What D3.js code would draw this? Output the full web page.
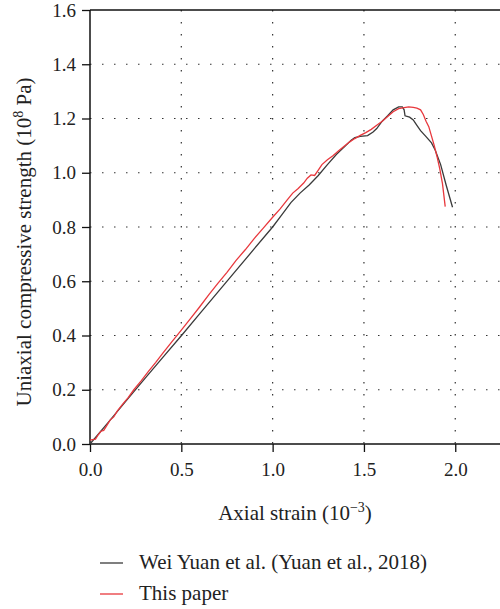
<!DOCTYPE html>
<html>
<head>
<meta charset="utf-8">
<script src="https://cdn.jsdelivr.net/npm/d3@7"></script>
<style>
  body { margin: 0; background: #fff; }
</style>
</head>
<body>
<div id="chart"></div>
<script>

// Wei Yuan et al. (Yuan et al., 2018)
let yuanStrain = [0, 0.1, 0.2, 0.3, 0.4, 0.5, 0.6, 0.7, 0.8, 0.9, 1.0, 1.05, 1.1, 1.15, 1.2, 1.25, 1.3, 1.35, 1.4, 1.43, 1.45, 1.48, 1.52, 1.55, 1.57, 1.6, 1.63, 1.66, 1.69, 1.71, 1.72, 1.725, 1.75, 1.77, 1.79, 1.81, 1.84, 1.87, 1.89, 1.92, 1.95, 1.985];
let yuanStress = [0, 0.08, 0.161, 0.241, 0.32, 0.399, 0.48, 0.56, 0.64, 0.72, 0.80, 0.845, 0.89, 0.925, 0.955, 0.99, 1.03, 1.068, 1.10, 1.12, 1.13, 1.134, 1.137, 1.15, 1.163, 1.19, 1.21, 1.232, 1.243, 1.243, 1.232, 1.21, 1.205, 1.195, 1.175, 1.155, 1.133, 1.11, 1.084, 1.03, 0.955, 0.873];

// This paper
let paperStrain = [0, 0.015, 0.03, 0.045, 0.06, 0.075, 0.09, 0.11, 0.13, 0.15, 0.18, 0.21, 0.24, 0.28, 0.32, 0.36, 0.4, 0.45, 0.5, 0.55, 0.6, 0.65, 0.7, 0.75, 0.8, 0.85, 0.9, 0.95, 1.0, 1.04, 1.08, 1.11, 1.14, 1.17, 1.19, 1.21, 1.23, 1.25, 1.27, 1.3, 1.33, 1.36, 1.39, 1.42, 1.45, 1.48, 1.51, 1.54, 1.57, 1.6, 1.63, 1.66, 1.69, 1.72, 1.745, 1.77, 1.79, 1.81, 1.825, 1.84, 1.855, 1.87, 1.885, 1.9, 1.915, 1.93, 1.945];
let paperStress = [0.014, 0.016, 0.018, 0.034, 0.047, 0.05, 0.066, 0.088, 0.1, 0.122, 0.148, 0.172, 0.2, 0.233, 0.268, 0.301, 0.336, 0.378, 0.42, 0.462, 0.505, 0.55, 0.592, 0.633, 0.677, 0.716, 0.758, 0.797, 0.836, 0.866, 0.9, 0.925, 0.942, 0.962, 0.98, 0.992, 0.99, 1.01, 1.03, 1.048, 1.063, 1.08, 1.097, 1.113, 1.126, 1.138, 1.148, 1.16, 1.175, 1.19, 1.207, 1.225, 1.236, 1.24, 1.243, 1.241, 1.238, 1.232, 1.215, 1.19, 1.17, 1.135, 1.1, 1.06, 1.015, 0.96, 0.875];

let xTicks = [0, 0.5, 1.0, 1.5, 2.0];
let yTicks = [0, 0.2, 0.4, 0.6, 0.8, 1.0, 1.2, 1.4, 1.6];

let seriesNames = ["Wei Yuan et al. (Yuan et al., 2018)", "This paper"];
let seriesColors = ["#3a3a3a", "#e8383d"];

let font = "'Liberation Serif', 'Times New Roman', serif";

let margin = {top: 10, right: 0, bottom: 165, left: 90};
let width = 500 - margin.left - margin.right;
let height = 609 - margin.top - margin.bottom;

let svg = d3.select("#chart").append("svg")
    .attr("width", 500)
    .attr("height", 609)
    .attr("font-family", font)
    .append("g")
    .attr("transform", "translate(" + margin.left + "," + margin.top + ")");

let x = d3.scaleLinear().domain([0, 2.245]).range([0, width]);
let y = d3.scaleLinear().domain([0, 1.6]).range([height, 0]);

// dotted grid
svg.append("g").selectAll("line.vgrid")
    .data(xTicks.slice(1))
    .enter().append("line")
    .attr("x1", d => x(d)).attr("x2", d => x(d))
    .attr("y1", 0).attr("y2", height)
    .attr("stroke", "#333").attr("stroke-width", 1.2)
    .attr("stroke-dasharray", "1.5,10.5");

svg.append("g").selectAll("line.hgrid")
    .data(yTicks.slice(1, -1))
    .enter().append("line")
    .attr("x1", 0).attr("x2", width)
    .attr("y1", d => y(d)).attr("y2", d => y(d))
    .attr("stroke", "#333").attr("stroke-width", 1.2)
    .attr("stroke-dasharray", "1.5,10.5");

// axes
let xAxis = d3.axisBottom(x).tickValues(xTicks).tickFormat(d3.format(".1f")).tickSize(8).tickPadding(11);
let yAxis = d3.axisLeft(y).tickValues(yTicks).tickFormat(d3.format(".1f")).tickSize(8).tickPadding(6);

let xg = svg.append("g").attr("transform", "translate(0," + height + ")").call(xAxis);
let yg = svg.append("g").call(yAxis);
[xg, yg].forEach(g => {
    g.attr("font-family", font).attr("font-size", 19);
    g.select(".domain").remove();
    g.selectAll("line").attr("stroke", "#111").attr("stroke-width", 1.3);
    g.selectAll("text").attr("fill", "#222");
});

// frame lines (left, bottom, top)
svg.append("line").attr("x1", 0).attr("x2", 0).attr("y1", 0).attr("y2", height).attr("stroke", "#111").attr("stroke-width", 1.5);
svg.append("line").attr("x1", 0).attr("x2", width).attr("y1", height).attr("y2", height).attr("stroke", "#111").attr("stroke-width", 1.5);
svg.append("line").attr("x1", 0).attr("x2", width).attr("y1", 0).attr("y2", 0).attr("stroke", "#111").attr("stroke-width", 1.5);

// curves
let line = d3.line().x(d => x(d[0])).y(d => y(d[1]));
let yuanData = d3.zip(yuanStrain, yuanStress);
let paperData = d3.zip(paperStrain, paperStress);

svg.append("path").datum(yuanData)
    .attr("d", line).attr("fill", "none")
    .attr("stroke", seriesColors[0]).attr("stroke-width", 1.3);
svg.append("path").datum(paperData)
    .attr("d", line).attr("fill", "none")
    .attr("stroke", seriesColors[1]).attr("stroke-width", 1.3);

// axis titles
let xt = svg.append("text")
    .attr("x", 205).attr("y", height + 76)
    .attr("text-anchor", "middle")
    .attr("font-size", 21).attr("fill", "#222");
xt.append("tspan").text("Axial strain (10");
xt.append("tspan").attr("dy", -8).attr("font-size", 14).text("\u22123");
xt.append("tspan").attr("dy", 8).text(")");

let yt = svg.append("text")
    .attr("transform", "translate(-59," + 232 + ") rotate(-90)")
    .attr("text-anchor", "middle")
    .attr("font-size", 21).attr("fill", "#222");
yt.append("tspan").text("Uniaxial compressive strength (10");
yt.append("tspan").attr("dy", -8).attr("font-size", 14).text("8");
yt.append("tspan").attr("dy", 8).text(" Pa)");

// legend
let legend = svg.append("g").attr("transform", "translate(10," + (height + 119) + ")");
seriesNames.forEach((name, i) => {
    let row = legend.append("g").attr("transform", "translate(0," + (i * 31) + ")");
    row.append("line").attr("x1", 0).attr("x2", 23).attr("y1", 0).attr("y2", 0)
        .attr("stroke", seriesColors[i]).attr("stroke-width", 1.3);
    row.append("text").attr("x", 39).attr("y", 6).attr("font-size", 21).attr("fill", "#222").text(name);
});

</script>
</body>
</html>
